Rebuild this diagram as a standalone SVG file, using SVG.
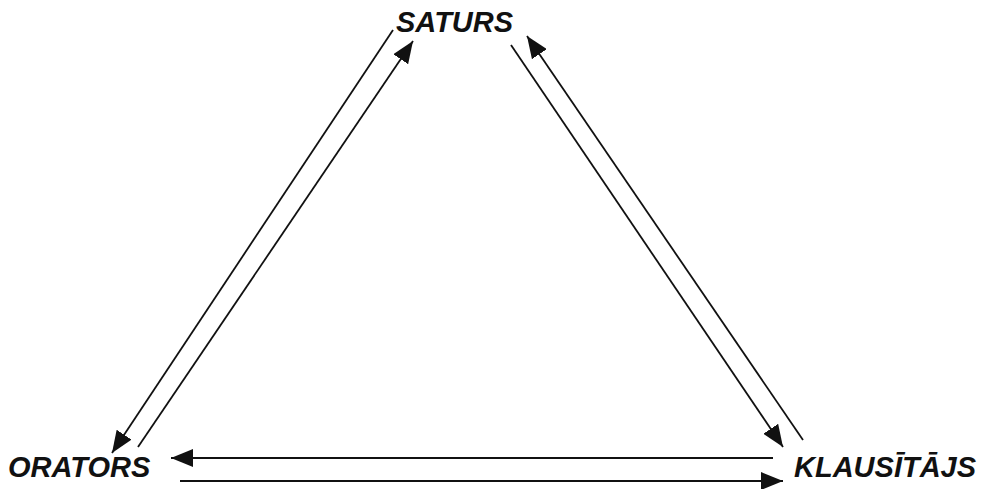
<svg xmlns="http://www.w3.org/2000/svg" width="983" height="489" viewBox="0 0 983 489">
<style>
.lbl{font-family:"Liberation Sans",Arial,sans-serif;font-weight:bold;font-style:italic;font-size:29px;fill:#111}
.c{stroke:#111;stroke-width:1.8;fill:none}
</style>
<defs>
<marker id="ah" markerUnits="userSpaceOnUse" markerWidth="24" markerHeight="18" refX="22" refY="9" orient="auto">
<path d="M0,0 L22,9 L0,18 Z" fill="#111"/>
</marker>
</defs>
<rect width="983" height="489" fill="#fff"/>
<g id="connectors">
<line class="c" x1="393" y1="30" x2="112" y2="453" marker-end="url(#ah)"/>
<line class="c" x1="138" y1="447" x2="413" y2="41" marker-end="url(#ah)"/>
<line class="c" x1="511" y1="45" x2="783" y2="447" marker-end="url(#ah)"/>
<line class="c" x1="803" y1="440" x2="527" y2="36" marker-end="url(#ah)"/>
<line class="c" x1="773" y1="458" x2="171" y2="458" marker-end="url(#ah)"/>
<line class="c" x1="180" y1="481" x2="783" y2="481" marker-end="url(#ah)"/>
</g>
<g id="saturs"><text class="lbl" x="396" y="32">SATURS</text></g>
<g id="orators"><text class="lbl" x="8" y="477">ORATORS</text></g>
<g id="klausitajs"><text class="lbl" x="794" y="477">KLAUSĪTĀJS</text></g>
</svg>
